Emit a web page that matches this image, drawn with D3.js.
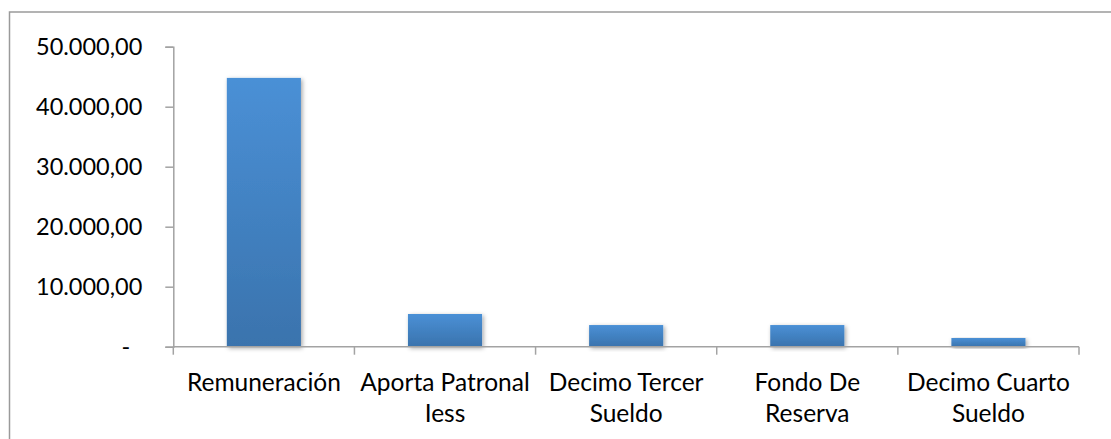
<!DOCTYPE html>
<html>
<head>
<meta charset="utf-8">
<script src="https://cdn.jsdelivr.net/npm/d3@7"></script>
<style>
  html, body { margin: 0; padding: 0; background: #fff; }
  svg { display: block; }
  text { font-family: Lato, "Open Sans", sans-serif; fill: #000; }
</style>
</head>
<body>
<svg id="chart" width="1111" height="439"></svg>
<script>
// Personnel cost items (categories may wrap onto two lines)
const categories = [
  ["Remuneración"],
  ["Aporta Patronal", "Iess"],
  ["Decimo Tercer", "Sueldo"],
  ["Fondo De", "Reserva"],
  ["Decimo Cuarto", "Sueldo"]
];
const values = [44800, 5450, 3610, 3610, 1450];
const yTicks = [0, 10000, 20000, 30000, 40000, 50000];

const svg = d3.select("#chart");
const W = 1111, H = 439;
const plot = { left: 173.3, right: 1079, top: 46.7, bottom: 346.7 };

// Outer chart frame (runs off the right and bottom edges)
svg.append("rect")
  .attr("x", 9.5).attr("y", 12)
  .attr("width", W + 20).attr("height", H + 20)
  .attr("fill", "none").attr("stroke", "#9a9a9a").attr("stroke-width", 1.5);

const defs = svg.append("defs");
const grad = defs.append("linearGradient")
  .attr("id", "barGrad").attr("x1", 0).attr("y1", 0).attr("x2", 0).attr("y2", 1);
grad.append("stop").attr("offset", "0%").attr("stop-color", "#4a90d6");
grad.append("stop").attr("offset", "100%").attr("stop-color", "#3a73ad");

const shadow = defs.append("filter").attr("id", "barShadow")
  .attr("x", "-10%").attr("y", "-10%").attr("width", "130%").attr("height", "130%");
shadow.append("feDropShadow")
  .attr("dx", 1.5).attr("dy", 1.5).attr("stdDeviation", 2)
  .attr("flood-color", "#000").attr("flood-opacity", 0.35);

const x = d3.scaleBand()
  .domain(d3.range(categories.length))
  .range([plot.left, plot.right])
  .paddingInner(0.591).paddingOuter(0.2955);

const y = d3.scaleLinear().domain([0, 50000]).range([plot.bottom, plot.top]);

const fmt = v => v === 0 ? "-" :
  d3.formatLocale({ decimal: ",", thousands: ".", grouping: [3], currency: ["", ""] })
    .format(",.2f")(v);

// Bars
svg.append("g").selectAll("rect")
  .data(values)
  .join("rect")
  .attr("x", (d, i) => x(i))
  .attr("width", x.bandwidth())
  .attr("y", d => y(d))
  .attr("height", d => y(0) - y(d))
  .attr("fill", "url(#barGrad)")
  .attr("filter", "url(#barShadow)");

const axisColor = "#a3a3a3";

// Y axis
const yAxis = svg.append("g")
  .attr("transform", `translate(${plot.left},0)`)
  .call(d3.axisLeft(y).tickValues(yTicks).tickSize(8).tickPadding(23).tickFormat(fmt));
yAxis.select(".domain").attr("stroke", axisColor).attr("stroke-width", 1.5);
yAxis.selectAll(".tick line").attr("stroke", axisColor).attr("stroke-width", 1.5);
yAxis.selectAll(".tick text")
  .attr("font-size", 23.5).attr("font-family", "Lato, sans-serif").attr("fill", "#000")
  .attr("dx", d => d === 0 ? -12 : 0);

// X axis: category boundaries ticks
const boundaries = d3.range(categories.length + 1).map(i => plot.left + i * x.step());
const xg = svg.append("g");
xg.append("line")
  .attr("x1", plot.left).attr("x2", plot.right)
  .attr("y1", plot.bottom).attr("y2", plot.bottom)
  .attr("stroke", axisColor).attr("stroke-width", 1.5);
xg.selectAll("line.tk")
  .data(boundaries)
  .join("line").attr("class", "tk")
  .attr("x1", d => d).attr("x2", d => d)
  .attr("y1", plot.bottom).attr("y2", plot.bottom + 8)
  .attr("stroke", axisColor).attr("stroke-width", 1.5);

// Category labels
const labels = svg.append("g").selectAll("text")
  .data(categories)
  .join("text")
  .attr("x", (d, i) => x(i) + x.bandwidth() / 2)
  .attr("y", 391)
  .attr("text-anchor", "middle")
  .attr("font-size", 24.5);
labels.selectAll("tspan")
  .data(d => d)
  .join("tspan")
  .attr("x", function () { return this.parentNode.getAttribute("x"); })
  .attr("dy", (d, i) => i === 0 ? 0 : 30.7)
  .text(d => d);
</script>
</body>
</html>
